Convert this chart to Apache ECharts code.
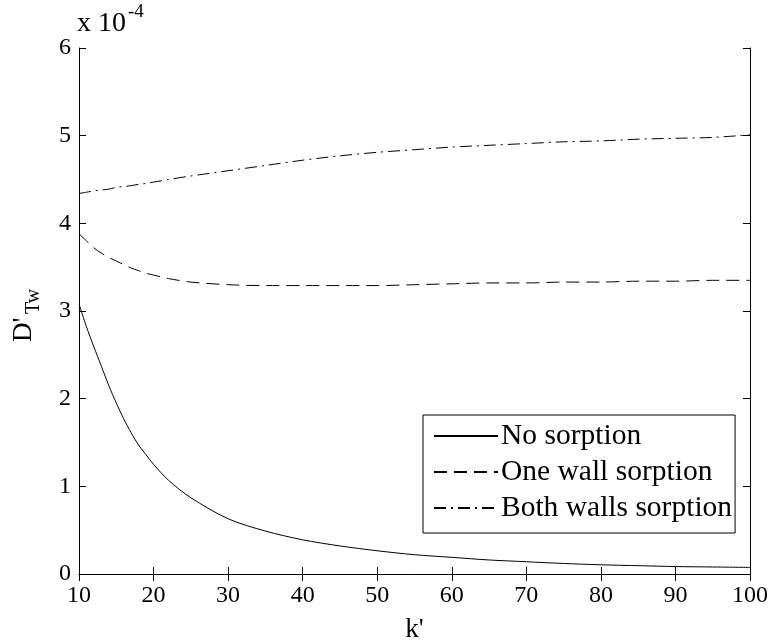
<!DOCTYPE html>
<html>
<head>
<meta charset="utf-8">
<script src="https://cdn.jsdelivr.net/npm/echarts@6/dist/echarts.min.js"></script>
<style>
  html, body { margin: 0; padding: 0; background: #fff; }
  #main { width: 773px; height: 642px; }
</style>
</head>
<body>
<div id="main"></div>
<script>
// k' values
var ks = [10, 11, 12, 13, 14, 15, 16, 17, 18, 19, 20, 22, 25, 30, 35, 40, 45, 50, 55, 60, 65, 70, 75, 80, 85, 90, 95, 100];
// D'Tw in units of 1e-4
var noSorption = [3.08, 2.82, 2.59, 2.37, 2.15, 1.95, 1.77, 1.61, 1.47, 1.36, 1.25, 1.07, 0.87, 0.63, 0.49, 0.39, 0.32, 0.265, 0.22, 0.19, 0.16, 0.14, 0.12, 0.105, 0.095, 0.085, 0.08, 0.075];
var oneWall = [3.88, 3.80, 3.72, 3.66, 3.61, 3.57, 3.53, 3.49, 3.46, 3.43, 3.41, 3.37, 3.33, 3.30, 3.29, 3.29, 3.29, 3.29, 3.30, 3.31, 3.32, 3.32, 3.33, 3.33, 3.34, 3.34, 3.35, 3.35];
var bothWalls = [4.34, 4.355, 4.37, 4.38, 4.39, 4.41, 4.42, 4.43, 4.445, 4.455, 4.47, 4.50, 4.54, 4.60, 4.66, 4.72, 4.77, 4.81, 4.84, 4.87, 4.89, 4.91, 4.93, 4.94, 4.96, 4.97, 4.98, 5.01];
var names = ['No sorption', 'One wall sorption', 'Both walls sorption'];

var FONT = '"Liberation Serif", "DejaVu Serif", serif';

function pairs(arr) {
  return ks.map(function (k, i) { return [k, arr[i]]; });
}

var chart = echarts.init(document.getElementById('main'));

var axisCommon = {
  axisLine: { show: true, lineStyle: { color: '#000', width: 1 } },
  axisTick: { show: true, inside: true, length: 7, lineStyle: { color: '#000' } },
  splitLine: { show: false }
};

function lineSeries(name, data, dash) {
  return {
    name: name,
    type: 'line',
    data: pairs(data),
    symbol: 'none',
    smooth: 0.3,
    lineStyle: { color: '#000', width: 1, type: dash },
    itemStyle: { color: '#000' }
  };
}

chart.setOption({
  animation: false,
  backgroundColor: '#fff',
  textStyle: { fontFamily: FONT },
  grid: { left: 79, right: 23, top: 48, bottom: 68, containLabel: false, outerBoundsMode: 'none' },
  xAxis: [
    Object.assign({
      type: 'value', min: 10, max: 100, interval: 10, position: 'bottom',
      name: "k'", nameLocation: 'middle', nameGap: 42,
      nameTextStyle: { fontFamily: FONT, fontSize: 27, color: '#000' },
      axisLabel: { fontFamily: FONT, fontSize: 24, color: '#000', margin: 10 }
    }, axisCommon),
    Object.assign({
      type: 'value', min: 10, max: 100, interval: 10, position: 'top',
      axisLabel: { show: false }
    }, axisCommon)
  ],
  yAxis: [
    Object.assign({
      type: 'value', min: 0, max: 6, interval: 1, position: 'left',
      axisLabel: { fontFamily: FONT, fontSize: 24, color: '#000', margin: 8 }
    }, axisCommon),
    Object.assign({
      type: 'value', min: 0, max: 6, interval: 1, position: 'right',
      axisLabel: { show: false }
    }, axisCommon)
  ],
  legend: {
    orient: 'vertical',
    left: 423,
    top: 415,
    data: names,
    itemWidth: 64,
    itemHeight: 14,
    itemGap: 6,
    padding: [6, 3, 10, 10],
    borderColor: '#000',
    borderWidth: 1,
    backgroundColor: '#fff',
    itemStyle: { color: 'rgba(0,0,0,0)', borderWidth: 0 },
    textStyle: { fontFamily: FONT, fontSize: 29.5, color: '#000', padding: [0, 0, 0, -2] }
  },
  graphic: [
    { type: 'text', left: 77, top: 10, style: { text: 'x 10', font: '28px ' + FONT, fill: '#000' } },
    { type: 'text', left: 128, top: 3, style: { text: '-4', font: '19px ' + FONT, fill: '#000' } },
    {
      type: 'group', x: 10, y: 342, rotation: Math.PI / 2,
      children: [
        { type: 'text', x: 0, y: 0, style: { text: "D'", font: '27px ' + FONT, fill: '#000', textAlign: 'left', textVerticalAlign: 'top' } },
        { type: 'text', x: 28, y: 14, style: { text: 'Tw', font: '20px ' + FONT, fill: '#000', textAlign: 'left', textVerticalAlign: 'top' } }
      ]
    }
  ],
  series: [
    lineSeries(names[0], noSorption, 'solid'),
    lineSeries(names[1], oneWall, [13, 7]),
    lineSeries(names[2], bothWalls, [12, 5, 2, 5])
  ]
});
</script>
</body>
</html>
